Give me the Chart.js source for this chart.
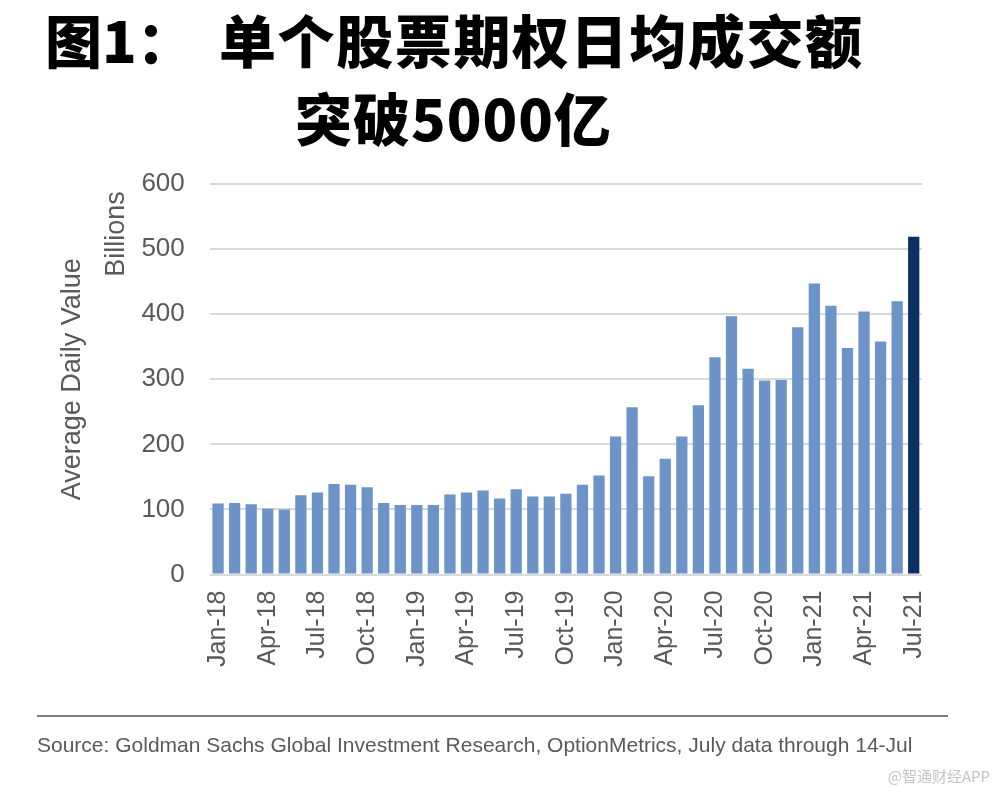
<!DOCTYPE html>
<html>
<head>
<meta charset="utf-8">
<script src="https://cdn.jsdelivr.net/npm/chart.js@4/dist/chart.umd.min.js"></script>
<style>
  html, body { margin: 0; padding: 0; background: #fff; }
  #page { position: relative; width: 1000px; height: 795px; overflow: hidden; }
  .head { position: absolute; font-family: "Noto Sans CJK SC", sans-serif; font-weight: 900;
          font-size: 57px; line-height: 60px; color: #000; white-space: nowrap; }
  #chartBox { position: absolute; left: 0; top: 0; width: 1000px; height: 795px; }
  #rule { position: absolute; left: 37px; top: 715px; width: 911px; height: 2px; background: #7f7f7f; }
  #source { position: absolute; left: 37px; top: 733px; font-family: "Liberation Sans Narrow", "Liberation Sans", sans-serif;
            font-size: 21px; color: #595959; white-space: nowrap; }
  #mark { position: absolute; right: 10px; top: 765px; font-family: "Noto Sans CJK SC", sans-serif;
          font-size: 15px; color: #c4c4c4; }
</style>
</head>
<body>
<div id="page">
  <div id="chartBox"><canvas id="chart"></canvas></div>
  <div class="head" style="left:45px; top:8px;">图1：</div>
  <div class="head" style="left:219px; top:8px; letter-spacing:1.6px;">单个股票期权日均成交额</div>
  <div class="head" style="left:295px; top:86px; letter-spacing:1px;">突破5000亿</div>
  <div id="rule"></div>
  <div id="source">Source: Goldman Sachs Global Investment Research, OptionMetrics, July data through 14-Jul</div>
  <div id="mark">@智通财经APP</div>
</div>
<script>
// months Jan-18 .. Jul-21
const months = [
  'Jan-18','Feb-18','Mar-18','Apr-18','May-18','Jun-18','Jul-18','Aug-18','Sep-18','Oct-18','Nov-18','Dec-18',
  'Jan-19','Feb-19','Mar-19','Apr-19','May-19','Jun-19','Jul-19','Aug-19','Sep-19','Oct-19','Nov-19','Dec-19',
  'Jan-20','Feb-20','Mar-20','Apr-20','May-20','Jun-20','Jul-20','Aug-20','Sep-20','Oct-20','Nov-20','Dec-20',
  'Jan-21','Feb-21','Mar-21','Apr-21','May-21','Jun-21','Jul-21'
];
// average daily value, billions
const adv = [
  109, 110, 108, 101, 100, 122, 126, 139, 138, 134, 110, 107,
  107, 107, 123, 126, 129, 117, 131, 120, 120, 124, 138, 152,
  212, 257, 151, 178, 212, 260, 334, 397, 316, 298, 299, 380,
  447, 413, 348, 404, 358, 420, 519
];
const yTicks = [0, 100, 200, 300, 400, 500, 600];

const barColors = adv.map((v, i) => i === adv.length - 1 ? '#0a3161' : '#6c94c8');
const txt = '#595959';
const fam = '"Liberation Sans", Arial, sans-serif';

// "Billions" label sits next to the axis title
const billionsLabel = {
  id: 'billions',
  afterDraw(chart) {
    const { ctx, chartArea } = chart;
    ctx.save();
    ctx.translate(chartArea.left - 93, chartArea.top + 50);
    ctx.rotate(-Math.PI / 2);
    ctx.font = '27px ' + fam;
    ctx.fillStyle = txt;
    ctx.textAlign = 'center';
    ctx.textBaseline = 'middle';
    ctx.fillText('Billions', 0, 0);
    ctx.restore();
  }
};

new Chart(document.getElementById('chart'), {
  type: 'bar',
  plugins: [billionsLabel],
  data: {
    labels: months,
    datasets: [{ data: adv, backgroundColor: barColors, borderWidth: 0,
                 barPercentage: 0.68, categoryPercentage: 1 }]
  },
  options: {
    responsive: true,
    maintainAspectRatio: false,
    animation: false,
    layout: { padding: { left: 56, right: 78, top: 184, bottom: 120 } },
    plugins: { legend: { display: false }, tooltip: { enabled: false } },
    scales: {
      x: {
        grid: { display: false },
        border: { display: false },
        ticks: {
          autoSkip: false, maxRotation: 90, minRotation: 90, padding: 8,
          color: txt, font: { family: fam, size: 25 },
          callback: (v, i) => i % 3 === 0 ? months[i] : ''
        }
      },
      y: {
        min: 0, max: 600,
        afterBuildTicks: (ax) => { ax.ticks = yTicks.map(v => ({ value: v })); },
        grid: { color: '#d9d9d9', lineWidth: 2, drawTicks: false },
        border: { display: false },
        ticks: { padding: 25, color: txt, font: { family: fam, size: 26 } },
        title: {
          display: true, text: 'Average Daily Value', color: txt,
          font: { family: fam, size: 27 },
          padding: { top: 0, bottom: 28 }
        }
      }
    }
  }
});
</script>
</body>
</html>
